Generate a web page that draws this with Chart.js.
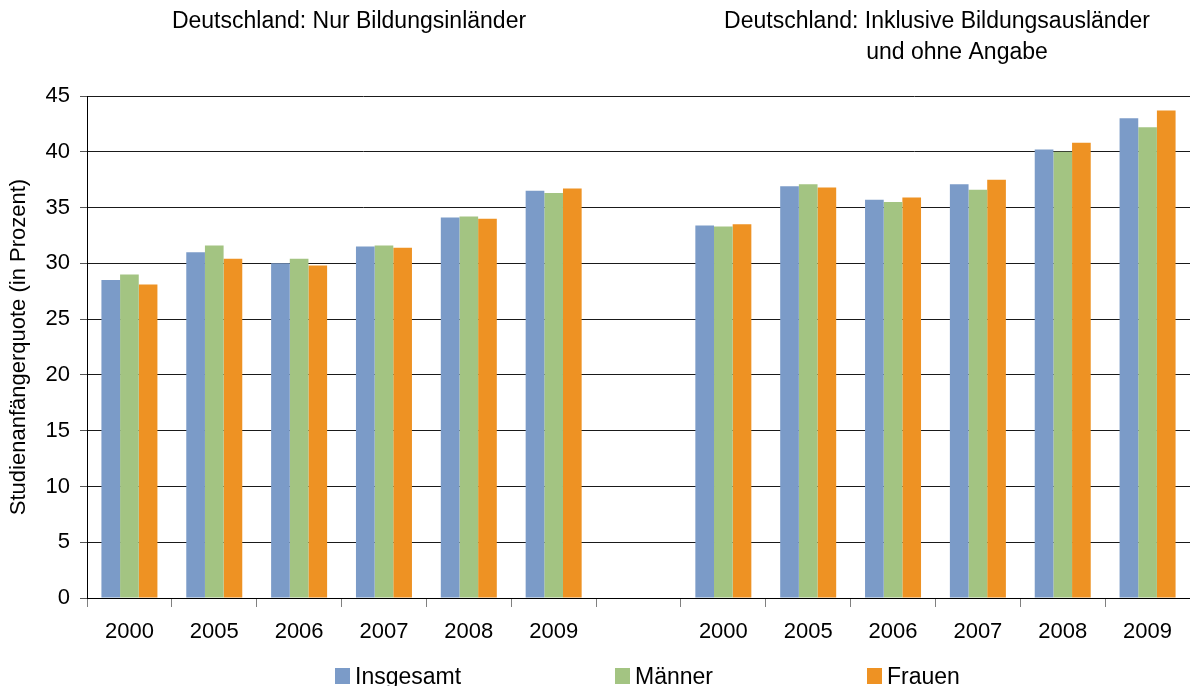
<!DOCTYPE html>
<html>
<head>
<meta charset="utf-8">
<script src="https://cdn.jsdelivr.net/npm/chart.js@4"></script>
<style>
  html, body { margin: 0; padding: 0; background: #fff; overflow: hidden; }
  #wrap { width: 1190px; height: 686px; position: relative; }
</style>
</head>
<body>
<div id="wrap"><canvas id="myChart" width="1190" height="686"></canvas></div>
<script>
// categories: two groups of years with an empty slot between
const years = ['2000', '2005', '2006', '2007', '2008', '2009', '', '2000', '2005', '2006', '2007', '2008', '2009'];

const insgesamt = [28.5, 31.0, 30.0, 31.5, 34.1, 36.5, null, 33.4, 36.9, 35.7, 37.1, 40.2, 43.0];
const maenner   = [29.0, 31.6, 30.4, 31.6, 34.2, 36.3, null, 33.3, 37.1, 35.5, 36.6, 40.0, 42.2];
const frauen    = [28.1, 30.4, 29.8, 31.4, 34.0, 36.7, null, 33.5, 36.8, 35.9, 37.5, 40.8, 43.7];

const seriesNames = ['Insgesamt', 'Männer', 'Frauen'];
const colors = ['#7b9bc8', '#a3c482', '#ee9223'];

const FONT = '"Liberation Sans", Arial, sans-serif';

// group titles + custom legend
const extras = {
  id: 'extras',
  afterDraw(chart) {
    const ctx = chart.ctx;
    ctx.save();
    ctx.fillStyle = '#000';
    ctx.font = '23px ' + FONT;
    ctx.textBaseline = 'middle';
    ctx.textAlign = 'center';
    ctx.fillText('Deutschland: Nur Bildungsinländer', 349, 22);
    ctx.fillText('Deutschland: Inklusive Bildungsausländer', 937, 22);
    ctx.fillText('und ohne Angabe', 957, 53);

    const legendX = [335, 615, 867];
    ctx.textAlign = 'left';
    ctx.font = '23px ' + FONT;
    chart.data.datasets.forEach((ds, i) => {
      ctx.fillStyle = ds.backgroundColor;
      ctx.fillRect(legendX[i], 668, 15, 16);
      ctx.fillStyle = '#000';
      ctx.fillText(ds.label, legendX[i] + 20, 678);
    });
    ctx.restore();
  }
};

new Chart(document.getElementById('myChart'), {
  type: 'bar',
  data: {
    labels: years,
    datasets: [
      { label: seriesNames[0], data: insgesamt, backgroundColor: colors[0] },
      { label: seriesNames[1], data: maenner, backgroundColor: colors[1] },
      { label: seriesNames[2], data: frauen, backgroundColor: colors[2] }
    ]
  },
  options: {
    responsive: false,
    animation: false,
    devicePixelRatio: 1,
    categoryPercentage: 0.66,
    barPercentage: 1.0,
    layout: { padding: { top: 96, right: 0, left: 0, bottom: 0 } },
    plugins: {
      legend: { display: false },
      tooltip: { enabled: false }
    },
    scales: {
      x: {
        afterFit(scale) { scale.height = 88; },
        grid: {
          offset: true,
          drawOnChartArea: false,
          drawTicks: true,
          tickLength: 9,
          color: '#808080'
        },
        border: { color: '#000', width: 1 },
        ticks: {
          color: '#000',
          font: { family: FONT, size: 22 },
          padding: 12,
          maxRotation: 0,
          autoSkip: false
        }
      },
      y: {
        min: 0,
        max: 45,
        afterFit(scale) { scale.width = 87; },
        grid: {
          color: '#1a1a1a',
          lineWidth: 1,
          tickLength: 7,
          tickColor: '#555'
        },
        border: { color: '#000', width: 1 },
        ticks: {
          stepSize: 5,
          color: '#000',
          font: { family: FONT, size: 22 },
          padding: 10
        },
        title: {
          display: true,
          text: 'Studienanfängerquote (in Prozent)',
          color: '#000',
          font: { family: FONT, size: 22 },
          padding: { top: 6, bottom: 2 }
        }
      }
    }
  },
  plugins: [extras]
});
</script>
</body>
</html>
